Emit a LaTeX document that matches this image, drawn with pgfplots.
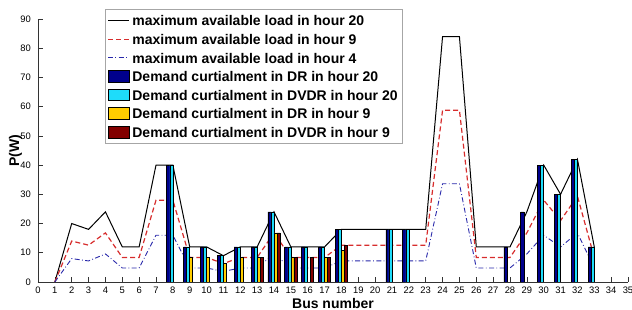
\documentclass[border=0pt]{standalone}
\usepackage{fontspec}
\setmainfont{Liberation Sans}
\usepackage{pgfplots}
\pgfplotsset{compat=1.18}
\usepackage{pgfplotstable}

\definecolor{navybar}{RGB}{0,0,140}
\definecolor{cyanbar}{RGB}{30,220,250}
\definecolor{yellowbar}{RGB}{255,205,0}
\definecolor{redbar}{RGB}{130,0,0}
\definecolor{linered}{RGB}{215,45,45}
\definecolor{lineblue}{RGB}{40,40,170}

\pgfplotstableread{
bus h20 h9 h4
1 0 0 0
2 20 14 8
3 18 12.6 7.2
4 24 16.8 9.6
5 12 8.4 4.8
6 12 8.4 4.8
7 40 28 16
8 40 28 16
9 12 8.4 4.8
10 12 8.4 4.8
11 9 6.3 3.6
12 12 8.4 4.8
13 12 8.4 4.8
14 24 16.8 9.6
15 12 8.4 4.8
16 12 8.4 4.8
17 12 8.4 4.8
18 18 12.6 7.2
19 18 12.6 7.2
20 18 12.6 7.2
21 18 12.6 7.2
22 18 12.6 7.2
23 18 12.6 7.2
24 84 58.8 33.6
25 84 58.8 33.6
26 12 8.4 4.8
27 12 8.4 4.8
28 12 8.4 4.8
29 24 16.8 9.6
30 40 28 16
31 30 21 12
32 42 29.4 16.8
33 12 8.4 4.8
}\loadtab

\pgfplotstableread{
bus val
8 40
9 12
10 12
11 9
12 12
13 12
14 24
15 12
16 12
17 12
18 18
21 18
22 18
28 12
29 24
30 40
31 30
32 42
33 12
}\drtwenty

\pgfplotstableread{
bus val
8 40
9 12
10 12
11 9
12 12
13 12
14 24
15 12
16 12
17 12
18 18
21 18
22 18
30 40
31 30
32 42
33 12
}\dvdrtwenty

\pgfplotstableread{
bus val
9 8.4
10 8.4
11 6.3
12 8.4
13 8.4
14 16.8
15 8.4
17 8.4
18 10.8
}\drnine

\pgfplotstableread{
bus val
13 8.4
14 16.8
15 8.4
16 8.4
17 8.4
18 12.6
}\dvdrnine

\begin{document}
\begin{tikzpicture}
\begin{axis}[
  scale only axis,
  width=295pt, height=131.5pt,
  xmin=0, xmax=35, ymin=0, ymax=90,
  axis x line*=bottom, axis y line*=left,
  axis line style={-, black!80, line width=0.4pt},
  tick align=inside,
  major tick length=2.5pt,
  tick style={black!80, line width=0.3pt},
  xtick={0,...,35}, ytick={0,10,...,90},
  tick label style={font=\fontsize{4.7}{5}\selectfont},
  /pgf/number format/assume math mode=true,
  xticklabel style={yshift=1pt},
  xlabel={Bus number}, ylabel={P(W)},
  label style={font=\fontsize{7}{8}\selectfont\bfseries},
  xlabel style={at={(axis description cs:0.5,-0.082)},anchor=center},
  ylabel style={at={(axis description cs:-0.038,0.5)},anchor=center},
  legend cell align=left,
  legend style={at={(axis description cs:0.1136,1.038)}, anchor=north west,
    font=\fontsize{7}{8}\selectfont\bfseries, draw=gray!70, line width=0.4pt,
    inner xsep=1pt, inner ysep=1pt, row sep=0pt,
    nodes={inner xsep=1.5pt, inner ysep=1.75pt, text height=5.5pt, text depth=0.3pt}},
  line leg/.style={legend image code/.code={\draw[##1] (0cm,0cm) -- (0.36cm,0cm);}},
  bar leg/.style={legend image code/.code={\draw[##1] (0cm,-0.1cm) rectangle (0.37cm,0.11cm);}},
]
\coordinate (bl) at (rel axis cs:0,0);
\coordinate (tr) at (rel axis cs:1,1);
\addplot[black, line width=0.5pt, line leg] table[x=bus,y=h20]{\loadtab};
\addlegendentry{maximum available load in hour 20}
\addplot[linered, line width=0.6pt, dash pattern=on 2.5pt off 1.5pt, line leg] table[x=bus,y=h9]{\loadtab};
\addlegendentry{maximum available load in hour 9}
\addplot[lineblue, line width=0.45pt, dash pattern=on 2.5pt off 1.2pt on 0.4pt off 1.2pt, line leg] table[x=bus,y=h4]{\loadtab};
\addlegendentry{maximum available load in hour 4}
\addplot[ybar, bar width=0.18, bar shift=-0.27, fill=navybar, draw=black, line width=0.3pt, bar leg] table[x=bus,y=val]{\drtwenty};
\addlegendentry{Demand curtialment in DR in hour 20}
\addplot[ybar, bar width=0.18, bar shift=-0.09, fill=cyanbar, draw=black, line width=0.3pt, bar leg] table[x=bus,y=val]{\dvdrtwenty};
\addlegendentry{Demand curtialment in DVDR in hour 20}
\addplot[ybar, bar width=0.18, bar shift=0.09, fill=yellowbar, draw=black, line width=0.3pt, bar leg] table[x=bus,y=val]{\drnine};
\addlegendentry{Demand curtialment in DR in hour 9}
\addplot[ybar, bar width=0.18, bar shift=0.27, fill=redbar, draw=black, line width=0.3pt, bar leg] table[x=bus,y=val]{\dvdrnine};
\addlegendentry{Demand curtialment in DVDR in hour 9}
\end{axis}
\pgfresetboundingbox
\path[use as bounding box] ([xshift=-19pt,yshift=-14pt]bl) rectangle ([xshift=2pt,yshift=9.5pt]tr);
\end{tikzpicture}
\end{document}
